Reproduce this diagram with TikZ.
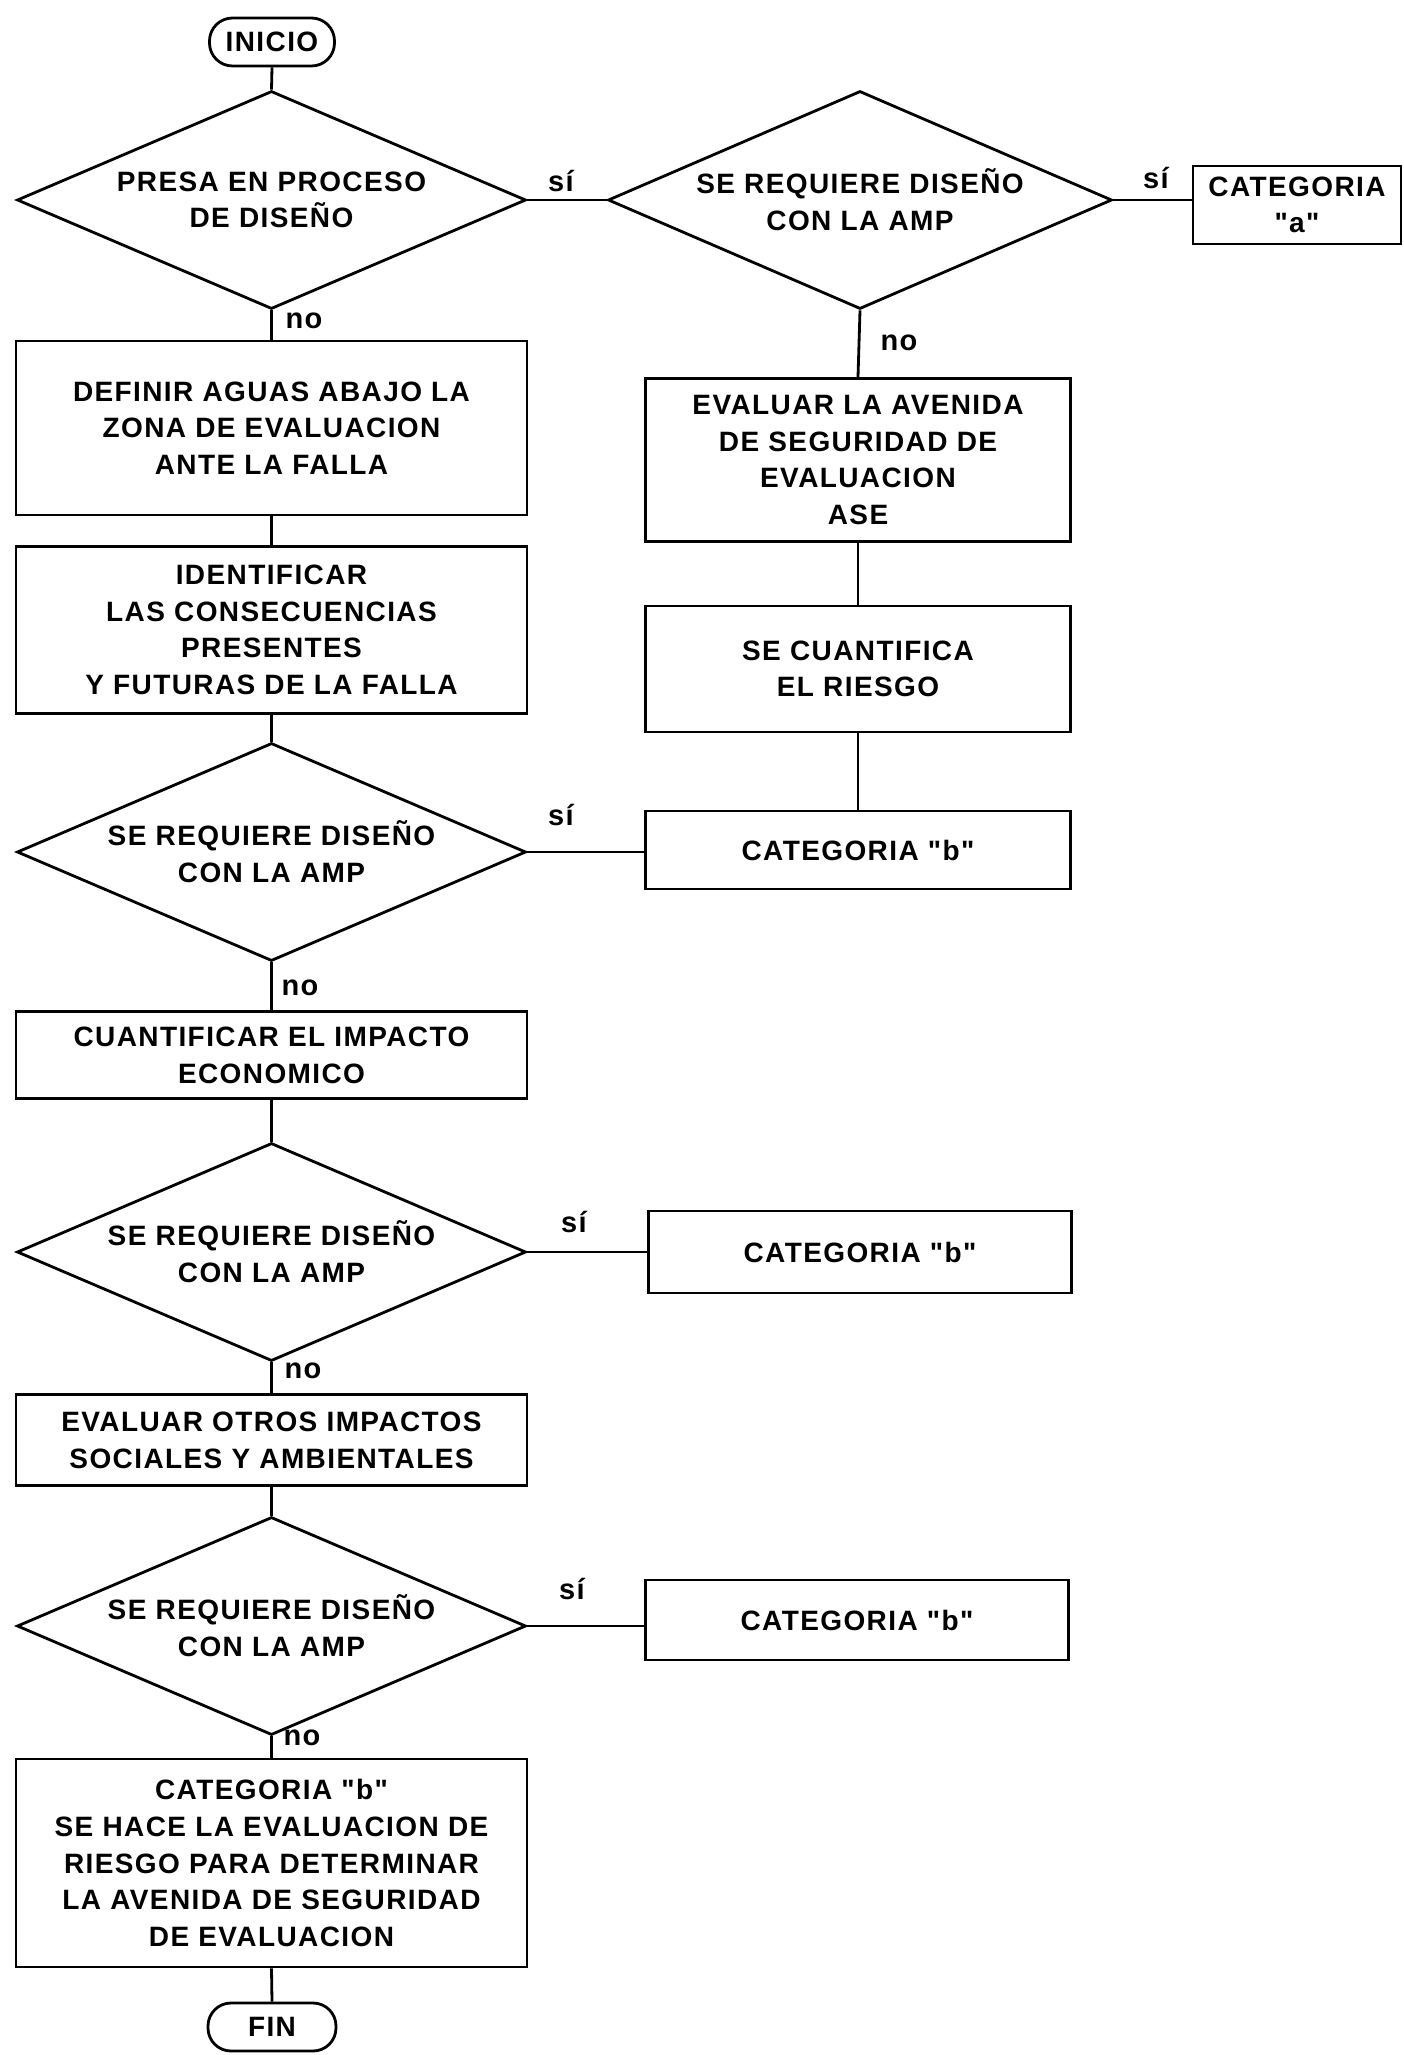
\documentclass[tikz,border=0pt]{standalone}
\usepackage{fontspec}
\setmainfont{Liberation Sans}[LetterSpace=5, Ligatures=TeXOff]
\usetikzlibrary{shapes.geometric}
\begin{document}
\begin{tikzpicture}[x=1pt,y=-1pt,
  every node/.style={font=\bfseries\fontsize{28}{36.7}\selectfont},
  proc/.style={draw, line width=2.8pt, rectangle, align=center, inner sep=0pt},
  dec/.style={draw, line width=2.8pt, diamond, aspect=2.33, align=center, inner sep=0pt, minimum width=509pt, minimum height=218pt},
  term/.style={draw, line width=2.8pt, rounded corners=23pt, minimum width=125pt, minimum height=48pt, inner sep=0pt},
  conn/.style={line width=2.8pt},
  lbl/.style={font=\bfseries\fontsize{29}{30}\selectfont, inner sep=0pt}
]
\useasboundingbox (0,0) rectangle (1404,2055);
\fill[white] (0,0) rectangle (1404,2055);

% left column
\node[term] (ini) at (272,42) {INICIO};
\node[dec] (d1) at (271.5,200) {PRESA EN PROCESO\\DE DISEÑO};
\node[proc, minimum width=511pt, minimum height=174pt] (b1) at (271.5,428) {DEFINIR AGUAS ABAJO LA\\ZONA DE EVALUACION\\ANTE LA FALLA};
\node[proc, minimum width=511pt, minimum height=167pt] (b2) at (271.5,630) {IDENTIFICAR\\LAS CONSECUENCIAS\\PRESENTES\\Y FUTURAS DE LA FALLA};
\node[dec] (d3) at (271.5,852) {SE REQUIERE DISEÑO\\CON LA AMP};
\node[proc, minimum width=511pt, minimum height=87pt] (b3) at (271.5,1055) {CUANTIFICAR EL IMPACTO\\ECONOMICO};
\node[dec] (d4) at (271.5,1252) {SE REQUIERE DISEÑO\\CON LA AMP};
\node[proc, minimum width=511pt, minimum height=91pt] (b4) at (271.5,1440) {EVALUAR OTROS IMPACTOS\\SOCIALES Y AMBIENTALES};
\node[dec] (d5) at (271.5,1626) {SE REQUIERE DISEÑO\\CON LA AMP};
\node[proc, minimum width=511pt, minimum height=208pt] (b5) at (271.5,1863) {CATEGORIA "b"\\SE HACE LA EVALUACION DE\\RIESGO PARA DETERMINAR\\LA AVENIDA DE SEGURIDAD\\DE EVALUACION};
\node[term, minimum width=128pt] (fin) at (272,2027) {FIN};

% right column
\node[dec, minimum width=504pt] (d2) at (860,200) {SE REQUIERE DISEÑO\\CON LA AMP};
\node[proc, minimum width=208pt, minimum height=78pt] (ca) at (1297,205) {CATEGORIA\\"a"};
\node[proc, minimum width=425pt, minimum height=163pt] (r1) at (858,460) {EVALUAR LA AVENIDA\\DE SEGURIDAD DE\\EVALUACION\\ASE};
\node[proc, minimum width=425pt, minimum height=126pt] (r2) at (858,669) {SE CUANTIFICA\\EL RIESGO};
\node[proc, minimum width=425pt, minimum height=78pt] (r3) at (858,850) {CATEGORIA "b"};
\node[proc, minimum width=423pt, minimum height=82pt] (c2) at (860,1252) {CATEGORIA "b"};
\node[proc, minimum width=423pt, minimum height=80pt] (c3) at (857,1620) {CATEGORIA "b"};

% connectors
\draw[conn] (ini.south) -- (d1.north);
\draw[conn] (d1.east) -- (d2.west);
\draw[conn] (d2.east) -- (d2.east -| ca.west);
\draw[conn] (d2.south) -- (r1.north);
\draw[conn] (r1.south) -- (r2.north);
\draw[conn] (r2.south) -- (r3.north);
\draw[conn] (d1.south) -- (b1.north);
\draw[conn] (b1.south) -- (b2.north);
\draw[conn] (b2.south) -- (d3.north);
\draw[conn] (d3.east) -- (d3.east -| r3.west);
\draw[conn] (d3.south) -- (b3.north);
\draw[conn] (b3.south) -- (d4.north);
\draw[conn] (d4.east) -- (d4.east -| c2.west);
\draw[conn] (d4.south) -- (b4.north);
\draw[conn] (b4.south) -- (d5.north);
\draw[conn] (d5.east) -- (d5.east -| c3.west);
\draw[conn] (d5.south) -- (b5.north);
\draw[conn] (b5.south) -- (fin.north);

% labels
\node[lbl] (s1) at (561,181) {sí};
\node[lbl] (s2) at (1156,178) {sí};
\node[lbl] (s3) at (561,815) {sí};
\node[lbl] (s4) at (574,1222) {sí};
\node[lbl] (s5) at (572,1589) {sí};
\node[lbl] (n1) at (304,321) {no};
\node[lbl] (n2) at (899,343) {no};
\node[lbl] (n3) at (300,988) {no};
\node[lbl] (n4) at (303,1371) {no};
\node[lbl] (n5) at (302,1738) {no};
\end{tikzpicture}
\end{document}
